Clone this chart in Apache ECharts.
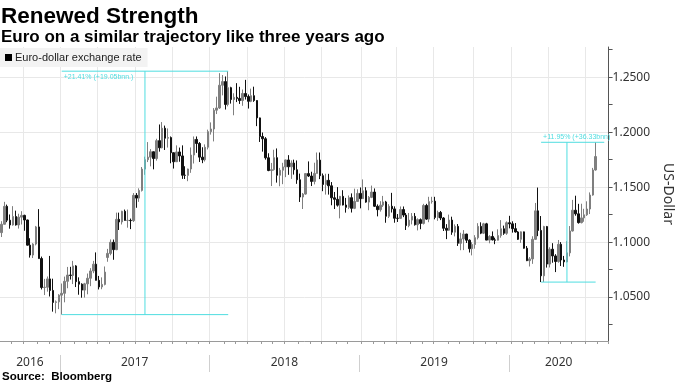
<!DOCTYPE html>
<html><head><meta charset="utf-8">
<script src="https://cdn.jsdelivr.net/npm/echarts@6/dist/echarts.min.js"></script>
<style>html,body{margin:0;padding:0;background:#fff}#c{width:683px;height:384px}</style>
</head><body><div id="c"></div>
<script>
// ---- data (weekly EUR/USD candles, week starting 2016-08-08) ----
const firstWeek = '2016-08-08';
const trailingEmptyWeeks = 4;
const opens = [
1.1086,1.1162,1.1325,1.1199,1.1156,1.1233,1.1156,1.1227,1.1243,1.1201,
1.0972,1.0882,1.0982,1.1138,1.0850,1.0587,1.0589,1.0665,1.0560,1.0451,
1.0456,1.0517,1.0534,1.0643,1.0700,1.0697,1.0783,1.0640,1.0617,1.0563,
1.0620,1.0671,1.0737,1.0799,1.0652,1.0592,1.0615,1.0860,1.0897,1.0998,
1.0931,1.1207,1.1183,1.1280,1.1197,1.1197,1.1195,1.1425,1.1400,1.1470,
1.1664,1.1750,1.1773,1.1822,1.1760,1.1923,1.1858,1.2036,1.1945,1.1951,
1.1813,1.1731,1.1820,1.1784,1.1608,1.1607,1.1665,1.1792,1.1934,1.1897,
1.1773,1.1749,1.1863,1.2005,1.2029,1.2200,1.2220,1.2427,1.2460,1.2252,
1.2405,1.2297,1.2317,1.2307,1.2288,1.2352,1.2324,1.2281,1.2332,1.2288,
1.2130,1.1960,1.1940,1.1767,1.1651,1.1659,1.1768,1.1608,1.1654,1.1684,
1.1747,1.1685,1.1719,1.1658,1.1567,1.1410,1.1437,1.1623,1.1601,1.1552,
1.1625,1.1746,1.1604,1.1524,1.1562,1.1512,1.1403,1.1389,1.1336,1.1416,
1.1337,1.1316,1.1404,1.1307,1.1370,1.1443,1.1395,1.1467,1.1364,1.1407,
1.1455,1.1326,1.1295,1.1336,1.1365,1.1235,1.1326,1.1302,1.1217,1.1216,
1.1296,1.1246,1.1150,1.1200,1.1234,1.1158,1.1204,1.1170,1.1333,1.1209,
1.1368,1.1372,1.1224,1.1270,1.1219,1.1126,1.1108,1.1200,1.1090,1.1143,
1.0989,1.1029,1.1073,1.1017,1.0940,1.0978,1.1040,1.1143,1.1081,1.1166,
1.1018,1.1051,1.1020,1.1017,1.1059,1.1121,1.1080,1.1176,1.1166,1.1122,
1.1092,1.1025,1.1093,1.0944,1.0831,1.0847,1.1025,1.1284,1.1106,1.0693,
1.1141,1.0800,1.0935,1.0874,1.0823,1.0980,1.0837,1.0820,1.0902,1.1101,
1.1290,1.1257,1.1177,1.1220,1.1248,1.1301,1.1428,1.1656];
const closes = [
1.1162,1.1325,1.1199,1.1156,1.1233,1.1156,1.1227,1.1243,1.1201,1.0972,
1.0882,1.0982,1.1138,1.0850,1.0587,1.0589,1.0665,1.0560,1.0451,1.0456,
1.0517,1.0534,1.0643,1.0700,1.0697,1.0783,1.0640,1.0617,1.0563,1.0620,
1.0671,1.0737,1.0799,1.0652,1.0592,1.0615,1.0727,1.0897,1.0998,1.0931,
1.1207,1.1183,1.1280,1.1197,1.1197,1.1195,1.1425,1.1400,1.1470,1.1664,
1.1750,1.1773,1.1822,1.1760,1.1923,1.1858,1.2036,1.1945,1.1951,1.1813,
1.1731,1.1820,1.1784,1.1608,1.1607,1.1665,1.1792,1.1934,1.1897,1.1773,
1.1749,1.1863,1.2005,1.2029,1.2200,1.2220,1.2427,1.2460,1.2252,1.2405,
1.2297,1.2317,1.2307,1.2288,1.2352,1.2324,1.2281,1.2332,1.2288,1.2130,
1.1960,1.1940,1.1767,1.1651,1.1659,1.1768,1.1608,1.1654,1.1684,1.1747,
1.1685,1.1719,1.1658,1.1567,1.1410,1.1437,1.1623,1.1601,1.1552,1.1625,
1.1746,1.1604,1.1524,1.1562,1.1512,1.1403,1.1389,1.1336,1.1416,1.1337,
1.1316,1.1404,1.1307,1.1370,1.1443,1.1395,1.1467,1.1364,1.1407,1.1455,
1.1326,1.1295,1.1336,1.1365,1.1235,1.1326,1.1302,1.1217,1.1216,1.1296,
1.1246,1.1150,1.1200,1.1234,1.1158,1.1204,1.1170,1.1333,1.1209,1.1368,
1.1372,1.1224,1.1270,1.1219,1.1126,1.1108,1.1200,1.1090,1.1143,1.0989,
1.1029,1.1073,1.1017,1.0940,1.0978,1.1040,1.1143,1.1081,1.1166,1.1018,
1.1051,1.1020,1.1017,1.1059,1.1121,1.1080,1.1176,1.1166,1.1122,1.1092,
1.1025,1.1093,1.0944,1.0831,1.0847,1.1025,1.1284,1.1106,1.0693,1.1141,
1.0800,1.0935,1.0874,1.0823,1.0980,1.0837,1.0820,1.0902,1.1101,1.1290,
1.1257,1.1177,1.1220,1.1248,1.1301,1.1428,1.1656,1.1778];
const highs = [
1.1190,1.1366,1.1341,1.1251,1.1327,1.1286,1.1258,1.1281,1.1249,1.1204,
1.1035,1.0990,1.1147,1.1300,1.0868,1.0665,1.0687,1.0874,1.0667,1.0469,
1.0526,1.0623,1.0686,1.0774,1.0775,1.0829,1.0790,1.0679,1.0625,1.0629,
1.0714,1.0763,1.0829,1.0906,1.0692,1.0679,1.0778,1.0938,1.1024,1.1023,
1.1268,1.1268,1.1285,1.1296,1.1296,1.1214,1.1446,1.1446,1.1489,1.1683,
1.1777,1.1910,1.1846,1.1824,1.1940,1.2070,1.2092,1.2060,1.2034,1.1961,
1.1816,1.1880,1.1860,1.1880,1.1690,1.1668,1.1861,1.1961,1.1961,1.1910,
1.1863,1.1889,1.2023,1.2089,1.2219,1.2323,1.2537,1.2520,1.2507,1.2555,
1.2413,1.2354,1.2446,1.2413,1.2388,1.2476,1.2343,1.2396,1.2414,1.2290,
1.2133,1.1997,1.1955,1.1808,1.1720,1.1840,1.1852,1.1675,1.1721,1.1750,
1.1791,1.1744,1.1750,1.1743,1.1623,1.1447,1.1624,1.1734,1.1640,1.1722,
1.1815,1.1815,1.1624,1.1622,1.1621,1.1546,1.1456,1.1500,1.1420,1.1472,
1.1402,1.1424,1.1443,1.1486,1.1480,1.1497,1.1570,1.1499,1.1419,1.1514,
1.1488,1.1343,1.1372,1.1420,1.1375,1.1345,1.1448,1.1325,1.1255,1.1324,
1.1324,1.1265,1.1265,1.1264,1.1264,1.1216,1.1215,1.1348,1.1348,1.1412,
1.1412,1.1412,1.1286,1.1283,1.1227,1.1163,1.1250,1.1231,1.1161,1.1164,
1.1085,1.1109,1.1075,1.1025,1.0999,1.1063,1.1172,1.1180,1.1175,1.1175,
1.1063,1.1097,1.1040,1.1116,1.1200,1.1150,1.1188,1.1239,1.1189,1.1173,
1.1100,1.1097,1.1095,1.0964,1.0864,1.1053,1.1356,1.1496,1.1237,1.1148,
1.1147,1.0953,1.0990,1.0890,1.1019,1.1000,1.0874,1.1008,1.1146,1.1384,
1.1422,1.1348,1.1349,1.1303,1.1371,1.1452,1.1675,1.1908];
const lows = [
1.1046,1.1160,1.1181,1.1122,1.1150,1.1150,1.1123,1.1160,1.1103,1.0968,
1.0859,1.0855,1.0970,1.0851,1.0569,1.0518,1.0549,1.0505,1.0367,1.0352,
1.0390,1.0340,1.0452,1.0580,1.0659,1.0618,1.0591,1.0521,1.0494,1.0495,
1.0525,1.0599,1.0717,1.0651,1.0569,1.0571,1.0606,1.0821,1.0880,1.0839,
1.0926,1.1110,1.1160,1.1196,1.1131,1.1118,1.1183,1.1312,1.1366,1.1460,
1.1612,1.1728,1.1689,1.1662,1.1741,1.1823,1.1853,1.1838,1.1860,1.1717,
1.1669,1.1730,1.1731,1.1575,1.1574,1.1554,1.1630,1.1715,1.1812,1.1729,
1.1718,1.1733,1.1843,1.1978,1.1916,1.2165,1.2212,1.2335,1.2206,1.2235,
1.2260,1.2154,1.2274,1.2257,1.2240,1.2297,1.2215,1.2273,1.2276,1.2055,
1.1911,1.1823,1.1750,1.1645,1.1510,1.1650,1.1541,1.1508,1.1527,1.1591,
1.1612,1.1575,1.1614,1.1530,1.1365,1.1301,1.1431,1.1592,1.1510,1.1525,
1.1624,1.1573,1.1463,1.1432,1.1432,1.1335,1.1301,1.1323,1.1216,1.1334,
1.1268,1.1300,1.1269,1.1300,1.1367,1.1307,1.1393,1.1358,1.1290,1.1400,
1.1319,1.1234,1.1277,1.1320,1.1176,1.1219,1.1269,1.1176,1.1183,1.1211,
1.1227,1.1110,1.1135,1.1161,1.1150,1.1106,1.1117,1.1160,1.1202,1.1181,
1.1350,1.1207,1.1193,1.1200,1.1101,1.1027,1.1102,1.1066,1.1052,1.0965,
1.0926,1.0927,1.0992,1.0905,1.0879,1.0940,1.1024,1.1072,1.1073,1.1017,
1.0989,1.1015,1.0981,1.1015,1.1040,1.1066,1.1066,1.1125,1.1086,1.1086,
1.1019,1.0993,1.0940,1.0827,1.0778,1.0802,1.1019,1.1054,1.0636,1.0637,
1.0768,1.0769,1.0812,1.0727,1.0812,1.0782,1.0775,1.0815,1.0870,1.1096,
1.1240,1.1168,1.1170,1.1185,1.1238,1.1255,1.1422,1.1650];

const yearStarts = ['2017-01-01','2018-01-01','2019-01-01','2020-01-01'];
const yLabelValues = [1.05, 1.10, 1.15, 1.20, 1.25];
const yTickValues = [1.025,1.05,1.075,1.10,1.125,1.15,1.175,1.20,1.225,1.25,1.275];
const yMin = 1.01, yMax = 1.2775;

// annotations (category index, value)
const annoA = {from:21, to:79, mid:50, low:1.0340, high:1.2555, text:'+21.41% (+19.05bnn.)'};
const annoB = {from:188, to:207, toTop:210, mid:197, low:1.0636, high:1.1908, text:'+11.95% (+36.33bnn)'};

// ---- build ----
const DAY = 86400000;
const t0 = Date.parse(firstWeek + 'T00:00:00Z');
const nCat = opens.length + trailingEmptyWeeks;
const weeks = [];
for (let i = 0; i < nCat; i++) {
  const d = new Date(t0 + i * 7 * DAY);
  weeks.push(d.toISOString().slice(0, 10));
}
const tEnd = t0 + nCat * 7 * DAY;
const candles = opens.map((o, i) => [o, closes[i], lows[i], highs[i]]);

const yb = yearStarts.map(s => Date.parse(s + 'T00:00:00Z'));
const edges = [t0].concat(yb).concat([tEnd]);
const yearCenters = [];
for (let i = 0; i < edges.length - 1; i++) yearCenters.push((edges[i] + edges[i + 1]) / 2);

const isMonthStart = (v) => +v.slice(8, 10) <= 7;
const isQuarterStart = (v) => isMonthStart(v) && ((+v.slice(5, 7)) - 1) % 3 === 0;

const cyan = '#4fdde0';
const cyanLine = {color: cyan, width: 1, type: 'solid', opacity: 1};
const lbl = (txt, pos) => ({show: true, formatter: txt, position: pos, color: cyan, fontSize: 7, distance: 2, fontFamily: 'Liberation Sans', opacity: 1});
const segment = (x1, x2, v, label) => ({
  type: 'line', silent: true, z: 4, symbol: 'none', lineStyle: cyanLine, itemStyle: {color: cyan},
  data: [[x1, v], [x2, v]],
  markLine: label ? {
    silent: true, symbol: 'none', animation: false, lineStyle: {color: 'rgba(255,255,255,0)', width: 1, opacity: 1},
    data: [[{coord: [x1, v], label: label}, {coord: [x2, v]}]]
  } : undefined
});
const vertical = (a) => ({
  type: 'line', silent: true, z: 4, showSymbol: true, symbol: 'none',
  lineStyle: cyanLine, itemStyle: {color: '#fff', borderColor: cyan, borderWidth: 1},
  data: [[a.mid, a.low], {value: [a.mid, a.high], symbol: 'triangle', symbolSize: 6, symbolOffset: [0, 4]}]
});

const chart = echarts.init(document.getElementById('c'), null, {renderer: 'canvas'});
chart.setOption({
  animation: false,
  backgroundColor: '#fff',
  title: [{
    text: 'Renewed Strength',
    subtext: 'Euro on a similar trajectory like three years ago',
    left: 0, top: 3, padding: [2, 1], itemGap: 1,
    textStyle: {fontFamily: 'Liberation Sans', fontWeight: 'bold', fontSize: 22.5, color: '#000'},
    subtextStyle: {fontFamily: 'Liberation Sans', fontWeight: 'bold', fontSize: 17, color: '#000'}
  }],
  graphic: [{
    type: 'text', left: 2, top: 371,
    style: {text: 'Source:  Bloomberg', font: 'bold 11.5px "Liberation Sans"', fill: '#000'}
  }],
  legend: {
    left: 0, top: 48, padding: [4, 6, 4, 5], backgroundColor: '#f3f3f3',
    icon: 'rect', itemWidth: 7, itemHeight: 7, itemGap: 5,
    textStyle: {fontFamily: 'Liberation Sans', fontSize: 11, color: '#222', padding: [0, 0, 0, -2]},
    data: [{name: 'Euro-dollar exchange rate', itemStyle: {color: '#000', borderWidth: 0}}]
  },
  grid: {left: 0, right: 62, top: 47, bottom: 43, containLabel: false},
  xAxis: [{
    type: 'category', data: weeks, boundaryGap: true,
    axisLine: {lineStyle: {color: '#9a9a9a'}},
    axisTick: {show: true, length: 3, interval: (i, v) => isMonthStart(v), lineStyle: {color: '#9a9a9a'}},
    axisLabel: {show: false},
    splitLine: {show: true, interval: (i, v) => isQuarterStart(v), lineStyle: {color: '#e8e8e8', width: 1}}
  }, {
    type: 'value', position: 'bottom', offset: 14, min: t0, max: tEnd,
    axisLine: {show: false},
    axisTick: {show: true, customValues: yb, length: 17, lineStyle: {color: '#cfcfcf'}},
    axisLabel: {show: true, customValues: yearCenters, margin: 2, fontFamily: 'Noto Sans', fontSize: 12, color: '#333',
      formatter: v => String(new Date(v).getUTCFullYear())},
    splitLine: {show: false}
  }],
  yAxis: {
    type: 'value', position: 'right', min: yMin, max: yMax, scale: true,
    name: 'US-Dollar', nameLocation: 'middle', nameRotate: -90, nameGap: 51,
    nameTextStyle: {fontFamily: 'Noto Sans', fontSize: 14, color: '#333'},
    axisLine: {show: true, lineStyle: {color: '#555'}},
    axisTick: {show: true, customValues: yTickValues, length: 4, lineStyle: {color: '#555'}},
    axisLabel: {show: true, customValues: yLabelValues, margin: 4, fontFamily: 'Noto Sans', fontSize: 12, color: '#333',
      formatter: v => v.toFixed(4)},
    splitLine: {show: false}
  },
  series: [{
    type: 'line', name: 'grid', data: [], silent: true, z: 0,
    markLine: {
      silent: true, symbol: 'none', z: 0, animation: false,
      label: {show: false},
      lineStyle: {color: '#e8e8e8', width: 1, type: 'solid'},
      data: yLabelValues.map(v => ({yAxis: v}))
    }
  }, {
    type: 'candlestick', name: 'Euro-dollar exchange rate', data: candles, barWidth: 2,
    itemStyle: {color: '#7f7f7f', color0: '#111', borderColor: '#7f7f7f', borderColor0: '#111', borderWidth: 1}
  },
  segment(annoA.from, annoA.to, annoA.low),
  segment(annoA.from, annoA.to, annoA.high, lbl(annoA.text, 'insideStartBottom')),
  vertical(annoA),
  segment(annoB.from, annoB.to, annoB.low),
  segment(annoB.from, annoB.toTop, annoB.high, lbl(annoB.text, 'insideStartTop')),
  vertical(annoB)]
});
</script></body></html>
